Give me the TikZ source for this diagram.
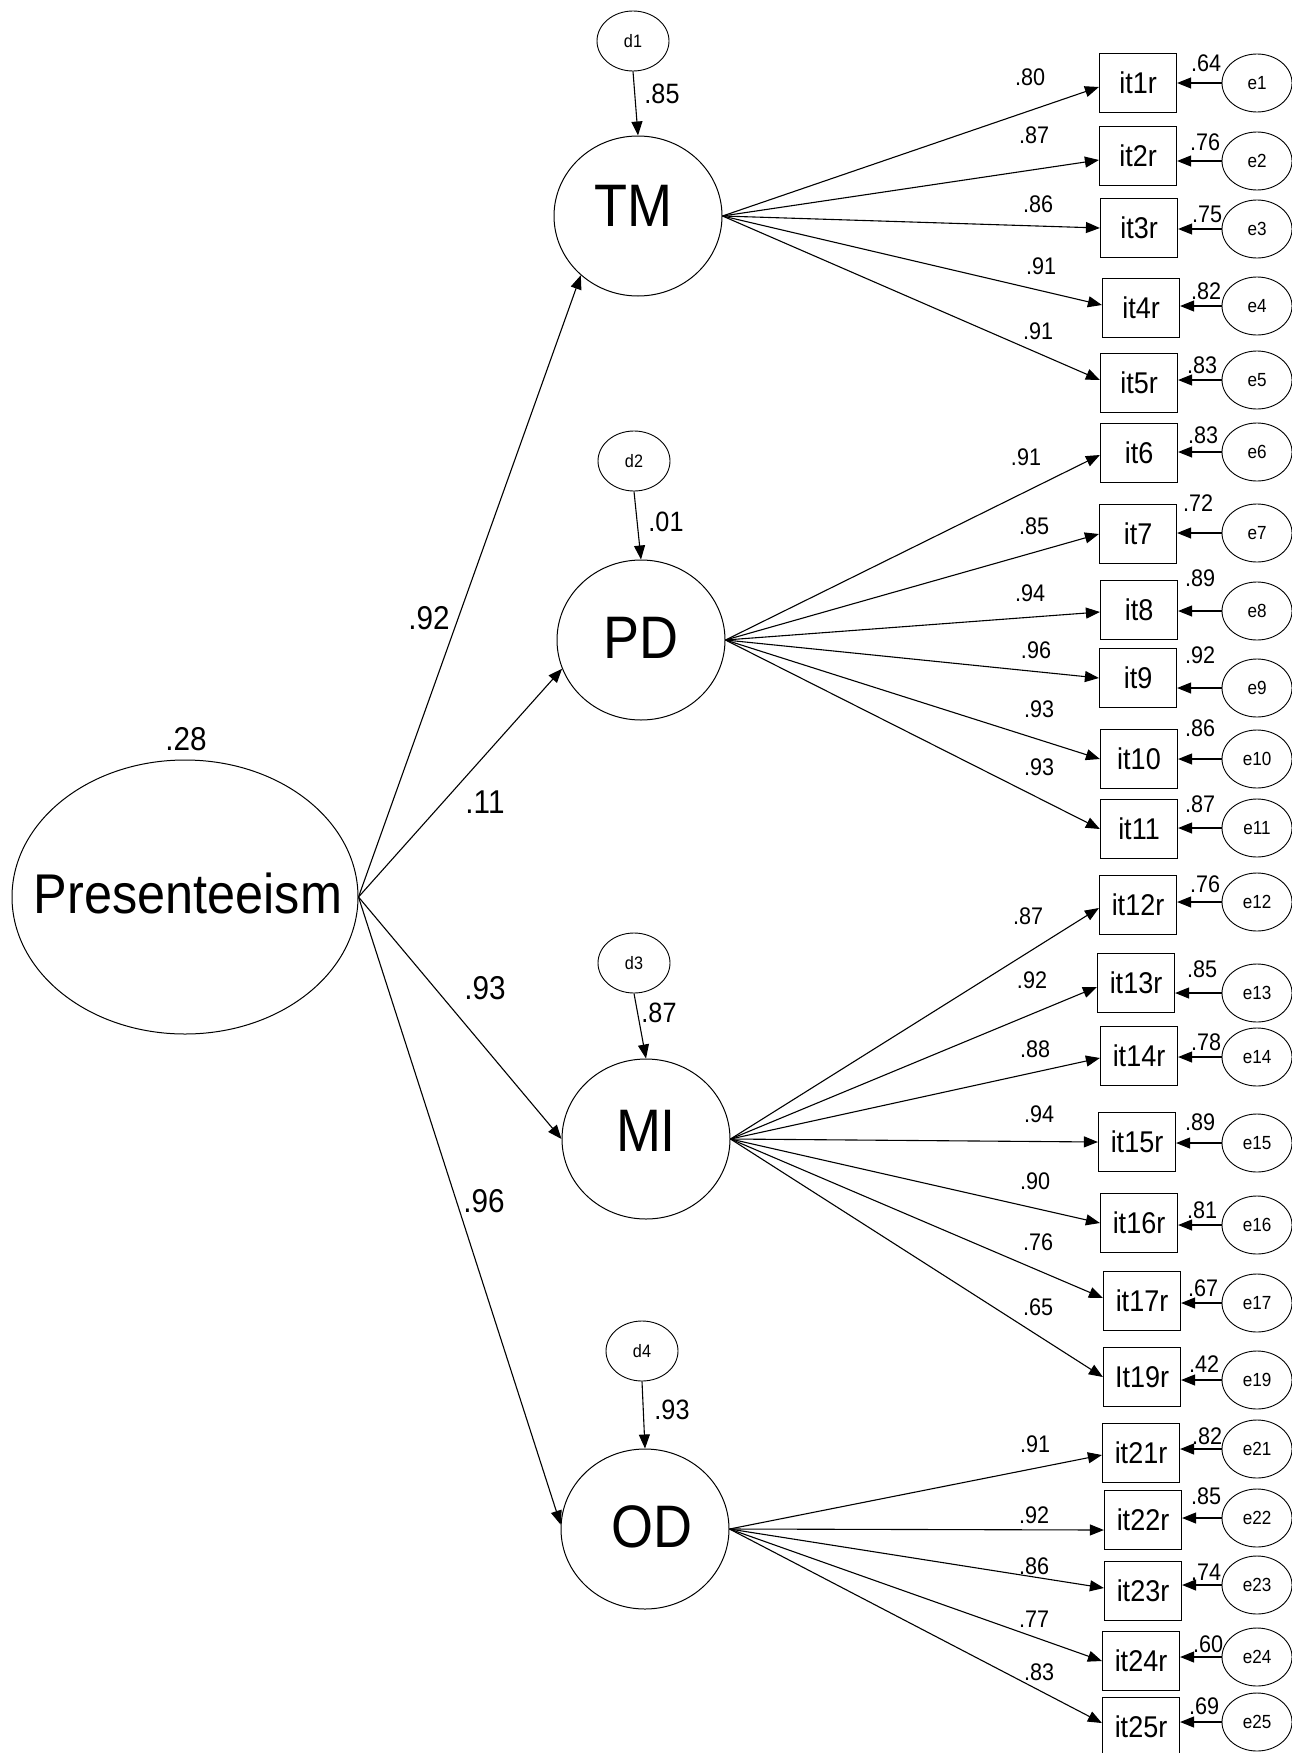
\documentclass[tikz,border=0pt]{standalone}
\usepackage{fontspec}
\setmainfont{Liberation Sans}[FakeStretch=0.9]
\usetikzlibrary{arrows.meta,shapes.geometric}
\begin{document}
\begin{tikzpicture}[x=1pt,y=-1pt,
  lat/.style={draw, ellipse, line width=1pt, inner sep=0pt, minimum width=168pt, minimum height=160pt, font=\fontsize{60}{60}\selectfont},
  dist/.style={draw, ellipse, line width=0.9pt, inner sep=0pt, minimum width=72pt, minimum height=60pt, font=\fontsize{18}{18}\selectfont},
  err/.style={draw, ellipse, line width=0.9pt, inner sep=0pt, minimum width=70pt, minimum height=58pt, font=\fontsize{19}{19}\selectfont},
  obs/.style={draw, rectangle, line width=1.2pt, inner sep=0pt, minimum width=77pt, minimum height=59pt, font=\fontsize{30}{30}\selectfont},
  arr/.style={-{Triangle[length=14pt,width=11pt]}, line width=1.1pt},
  lbl/.style={inner sep=0pt, font=\fontsize{24}{24}\selectfont},
  biglbl/.style={inner sep=0pt, font=\fontsize{33}{33}\selectfont},
  dlbl/.style={inner sep=0pt, font=\fontsize{28}{28}\selectfont}
]
\fill[white] (0,0) rectangle (1292,1753);
\useasboundingbox (0,0) rectangle (1292,1753);

% second-order factor
\node[draw, ellipse, line width=1pt, minimum width=346pt, minimum height=274pt, inner sep=0pt] (pres) at (185,897) {};
\node[inner sep=0pt, font=\fontsize{56}{56}\selectfont] (prestext) at (188,893) {Presenteeism};
\node[biglbl] (l28) at (186,739) {.28};

% first-order factors
\node[lat] (TM) at (638,216) {};
\node[lat] (PD) at (641,640) {};
\node[lat] (MI) at (646,1139) {};
\node[lat] (OD) at (645,1529) {};
\node[inner sep=0pt, font=\fontsize{60}{60}\selectfont] (TMt) at (633,206) {TM};
\node[inner sep=0pt, font=\fontsize{60}{60}\selectfont] (PDt) at (641,638) {PD};
\node[inner sep=0pt, font=\fontsize{60}{60}\selectfont] (MIt) at (646,1131) {MI};
\node[inner sep=0pt, font=\fontsize{60}{60}\selectfont] (ODt) at (652,1527) {OD};

% disturbances
\node[dist] (d1) at (633,41) {d1};
\node[dist] (d2) at (634,461) {d2};
\node[dist] (d3) at (634,963) {d3};
\node[dist] (d4) at (642,1351) {d4};

\draw[arr] (d1.south) -- (TM.north);
\draw[arr] (d2.south) -- (PD.north);
\draw[arr] (d3.south) -- (MI.north);
\draw[arr] (d4.south) -- (OD.north);
\node[dlbl] at (662,94) {.85};
\node[dlbl] at (666,522) {.01};
\node[dlbl] at (659,1013) {.87};
\node[dlbl] at (672,1410) {.93};

% structural paths
\draw[arr] (pres.east) -- (TM.226);
\draw[arr] (pres.east) -- (PD.200);
\draw[arr] (pres.east) -- (MI.180);
\draw[arr] (pres.east) -- (OD.177);
\node[biglbl] at (429,618) {.92};
\node[biglbl] at (485,802) {.11};
\node[biglbl] at (485,988) {.93};
\node[biglbl] at (484,1201) {.96};

% indicators, errors, loadings
\foreach \n/\t/\bx/\by/\ey/\f/\ld/\lx/\ly/\ev/\vx/\vy/\sh in {
 1/it1r/1138/83/83/TM/.80/1030/77/.64/1206/63/-4,
 2/it2r/1138/156/161/TM/.87/1034/135/.76/1205/142/-4,
 3/it3r/1139/228/229/TM/.86/1038/204/.75/1207/214/0,
 4/it4r/1141/308/306/TM/.91/1041/266/.82/1206/291/3,
 5/it5r/1139/383/380/TM/.91/1038/331/.83/1202/365/3,
 6/it6/1139/453/452/PD/.91/1026/457/.83/1203/435/-2,
 7/it7/1138/534/533/PD/.85/1034/526/.72/1198/503/0,
 8/it8/1139/610/611/PD/.94/1030/593/.89/1200/578/-2,
 9/it9/1138/678/688/PD/.96/1036/650/.92/1200/655/0,
 10/it10/1139/759/759/PD/.93/1039/709/.86/1200/728/0,
 11/it11/1139/829/828/PD/.93/1039/767/.87/1200/804/0,
 12/it12r/1138/905/902/MI/.87/1028/916/.76/1205/884/-3,
 13/it13r/1136/983/993/MI/.92/1032/980/.85/1202/969/-4,
 14/it14r/1139/1056/1057/MI/.88/1035/1049/.78/1206/1042/-2,
 15/it15r/1137/1142/1143/MI/.94/1039/1114/.89/1200/1122/0,
 16/it16r/1139/1223/1225/MI/.90/1035/1181/.81/1202/1210/0,
 17/it17r/1142/1301/1303/MI/.76/1038/1242/.67/1203/1288/3,
 19/It19r/1142/1377/1380/MI/.65/1038/1307/.42/1204/1364/0,
 21/it21r/1141/1453/1449/OD/.91/1035/1444/.82/1207/1436/-2,
 22/it22r/1143/1520/1518/OD/.92/1034/1515/.85/1206/1496/-10,
 23/it23r/1143/1591/1585/OD/.86/1034/1566/.74/1206/1572/3,
 24/it24r/1141/1661/1657/OD/.77/1034/1619/.60/1208/1644/0,
 25/it25r/1141/1727/1722/OD/.83/1039/1672/.69/1204/1706/4}
{
  \node[obs] (b\n) at (\bx,\by) {\t};
  \node[err] (e\n) at (1257,\ey) {e\n};
  \draw[arr] (e\n.west) -- (e\n.west -| b\n.east);
  \draw[arr] (\f.east) -- ([yshift=\sh pt]b\n.west);
  \node[lbl] at (\lx,\ly) {\ld};
  \node[lbl] at (\vx,\vy) {\ev};
}
\end{tikzpicture}
\end{document}
